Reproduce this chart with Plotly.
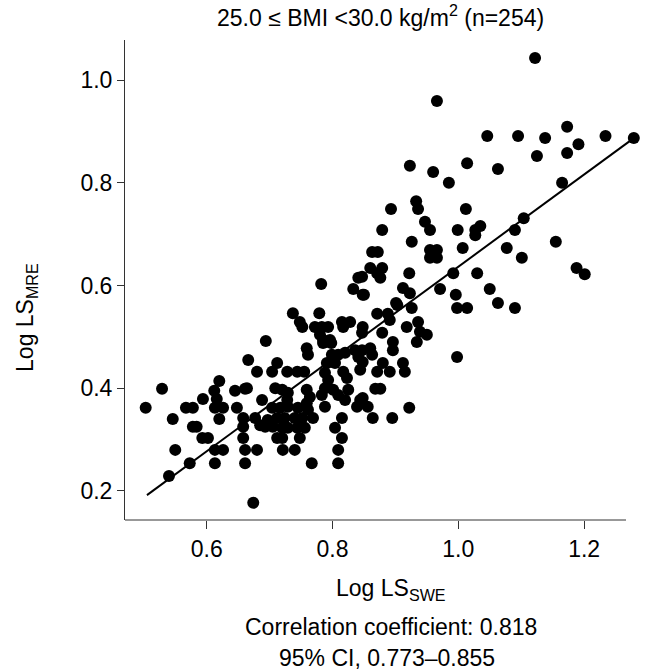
import plotly.graph_objects as go

# Log LS_SWE (x) and Log LS_MRE (y)
log_ls_swe = [
    0.503, 0.529, 0.546, 0.567, 0.578, 0.594, 0.620, 0.612, 0.616, 0.613,
    0.626, 0.620, 0.645, 0.661, 0.648, 0.578, 0.584, 0.593, 0.602, 0.550,
    0.573, 0.540, 0.613, 0.626, 0.613, 0.658, 0.658, 0.658, 0.661, 0.661,
    0.666, 0.674, 0.694, 0.759, 0.761, 0.785, 0.798, 0.680, 0.712, 0.704,
    0.728, 0.744, 0.755, 0.799, 0.809, 0.791, 0.804, 0.820, 0.836, 0.841,
    0.788, 0.793, 0.817, 0.823, 0.664, 0.709, 0.720, 0.729, 0.728, 0.688,
    0.759, 0.764, 0.759, 0.788, 0.801, 0.809, 0.820, 0.825, 0.783, 0.788,
    0.704, 0.717, 0.729, 0.745, 0.761, 0.769, 0.752, 0.740, 0.724, 0.712,
    0.697, 0.677, 0.685, 0.693, 0.705, 0.720, 0.729, 0.744, 0.756, 0.815,
    0.804, 0.839, 0.844, 0.712, 0.720, 0.748, 0.815, 0.680, 0.721, 0.740,
    0.809, 0.767, 0.809, 0.903, 0.926, 0.871, 0.888, 0.891, 0.848, 0.847,
    0.879, 0.918, 0.936, 0.939, 0.950, 0.934, 0.896, 0.896, 0.998, 1.014,
    0.998, 0.860, 0.863, 0.847, 0.848, 0.844, 0.880, 0.871, 0.891, 0.912,
    0.915, 0.868, 0.876, 0.848, 0.856, 0.864, 0.895, 0.922, 0.782, 0.841,
    0.833, 0.848, 0.737, 0.748, 0.752, 0.779, 0.772, 0.783, 0.793, 0.780,
    0.785, 0.796, 0.815, 0.828, 0.817, 0.923, 0.960, 0.985, 1.014, 1.063,
    0.893, 0.933, 0.936, 1.012, 0.947, 0.955, 0.879, 0.999, 1.027, 1.035,
    1.027, 0.926, 1.007, 0.955, 0.966, 0.955, 0.966, 0.863, 0.872, 0.860,
    0.879, 0.871, 0.876, 0.847, 0.850, 0.922, 0.912, 0.923, 0.901, 0.971,
    0.992, 0.996, 1.030, 1.050, 1.063, 1.122, 1.046, 1.095, 1.138, 1.173,
    1.191, 1.173, 1.125, 1.234, 1.165, 1.104, 1.090, 1.155, 1.279, 1.077,
    1.101, 1.188, 1.201, 1.090, 0.966,
]
log_ls_mre = [
    0.362, 0.399, 0.340, 0.362, 0.362, 0.379, 0.414, 0.395, 0.379, 0.362,
    0.362, 0.340, 0.395, 0.399, 0.362, 0.325, 0.325, 0.303, 0.303, 0.280,
    0.254, 0.229, 0.280, 0.280, 0.254, 0.342, 0.325, 0.303, 0.280, 0.254,
    0.455, 0.177, 0.492, 0.478, 0.465, 0.488, 0.488, 0.432, 0.449, 0.432,
    0.432, 0.432, 0.432, 0.465, 0.465, 0.449, 0.449, 0.469, 0.474, 0.461,
    0.430, 0.416, 0.432, 0.420, 0.400, 0.400, 0.397, 0.391, 0.377, 0.377,
    0.397, 0.383, 0.371, 0.400, 0.397, 0.387, 0.377, 0.397, 0.387, 0.364,
    0.362, 0.362, 0.364, 0.362, 0.358, 0.342, 0.342, 0.342, 0.342, 0.342,
    0.338, 0.342, 0.328, 0.325, 0.325, 0.323, 0.323, 0.323, 0.323, 0.342,
    0.323, 0.364, 0.377, 0.303, 0.303, 0.303, 0.303, 0.280, 0.280, 0.280,
    0.280, 0.254, 0.254, 0.562, 0.556, 0.545, 0.545, 0.533, 0.519, 0.508,
    0.508, 0.519, 0.529, 0.510, 0.504, 0.490, 0.490, 0.474, 0.556, 0.556,
    0.461, 0.478, 0.465, 0.474, 0.451, 0.436, 0.449, 0.432, 0.432, 0.449,
    0.432, 0.399, 0.399, 0.381, 0.364, 0.342, 0.342, 0.362, 0.603, 0.615,
    0.593, 0.582, 0.546, 0.529, 0.519, 0.546, 0.519, 0.519, 0.519, 0.504,
    0.494, 0.494, 0.529, 0.529, 0.519, 0.833, 0.821, 0.800, 0.838, 0.827,
    0.749, 0.764, 0.749, 0.749, 0.724, 0.708, 0.708, 0.708, 0.708, 0.716,
    0.698, 0.685, 0.673, 0.669, 0.669, 0.654, 0.654, 0.665, 0.665, 0.634,
    0.634, 0.624, 0.615, 0.617, 0.582, 0.624, 0.595, 0.585, 0.566, 0.593,
    0.624, 0.582, 0.624, 0.593, 0.566, 1.043, 0.891, 0.891, 0.887, 0.909,
    0.875, 0.858, 0.852, 0.891, 0.800, 0.731, 0.708, 0.685, 0.887, 0.673,
    0.654, 0.634, 0.622, 0.556, 0.959,
]

# Regression line end points
fit_x = [0.505, 1.279]
fit_y = [0.192, 0.887]

x_ticks = [0.6, 0.8, 1.0, 1.2]
y_ticks = [0.2, 0.4, 0.6, 0.8, 1.0]

title_text = "25.0 ≤ BMI &lt;30.0 kg/m<sup>2</sup> (n=254)"
x_label = "Log LS<sub>SWE</sub>"
y_label = "Log LS<sub>MRE</sub>"
corr_text = "Correlation coefficient: 0.818"
ci_text = "95% CI, 0.773–0.855"

FONT = "Liberation Sans, Arial, Helvetica, sans-serif"
FS = 23
AXC = "#333333"

fig = go.Figure()
fig.add_trace(go.Scatter(
    x=log_ls_swe, y=log_ls_mre, mode="markers",
    marker=dict(color="black", size=12, line=dict(width=0)),
    cliponaxis=False, hoverinfo="skip", showlegend=False,
))
fig.add_trace(go.Scatter(
    x=fit_x, y=fit_y, mode="lines",
    line=dict(color="black", width=2),
    hoverinfo="skip", showlegend=False,
))

x_range = [0.4701, 1.2968]
x_axis_end = 1.2666

fig.update_layout(
    width=656, height=671,
    margin=dict(l=125, r=11, t=40, b=151),
    paper_bgcolor="white", plot_bgcolor="white",
    font=dict(family=FONT, size=FS, color="black"),
    xaxis=dict(
        range=x_range, tickvals=x_ticks, ticktext=[f"{v:.1f}" for v in x_ticks],
        showgrid=False, zeroline=False, showline=False,
        ticks="outside", ticklen=8, tickwidth=1, tickcolor=AXC,
        tickfont=dict(family=FONT, size=FS, color="black"),
    ),
    yaxis=dict(
        range=[0.1435, 1.0779], tickvals=y_ticks, ticktext=[f"{v:.1f}" for v in y_ticks],
        showgrid=False, zeroline=False, showline=True, linecolor=AXC, linewidth=1,
        ticks="outside", ticklen=7, tickwidth=1, tickcolor=AXC,
        tickfont=dict(family=FONT, size=FS, color="black"),
    ),
    shapes=[dict(type="line", xref="x", yref="paper",
                 x0=x_range[0], x1=x_axis_end, y0=0, y1=0,
                 line=dict(color=AXC, width=1))],
)

ann = dict(showarrow=False, xref="paper", yref="paper",
           font=dict(family=FONT, size=FS, color="black"))
fig.add_annotation(text=title_text, x=0.4923, y=1.0500, xanchor="center", yanchor="middle", **ann)
fig.add_annotation(text=x_label, x=0.5115, y=-0.1458, xanchor="center", yanchor="middle", **ann)
fig.add_annotation(text=corr_text, x=0.5115, y=-0.2229, xanchor="center", yanchor="middle", **ann)
fig.add_annotation(text=ci_text, x=0.5046, y=-0.2880, xanchor="center", yanchor="middle", **ann)
fig.add_annotation(text=y_label, x=-0.1885, y=0.423, xanchor="center", yanchor="middle",
                   textangle=-90, **ann)

fig.write_html(
    "out.html",
    config={"displayModeBar": False},
    post_script="document.body.style.margin='0';document.body.style.overflow='hidden';",
)
